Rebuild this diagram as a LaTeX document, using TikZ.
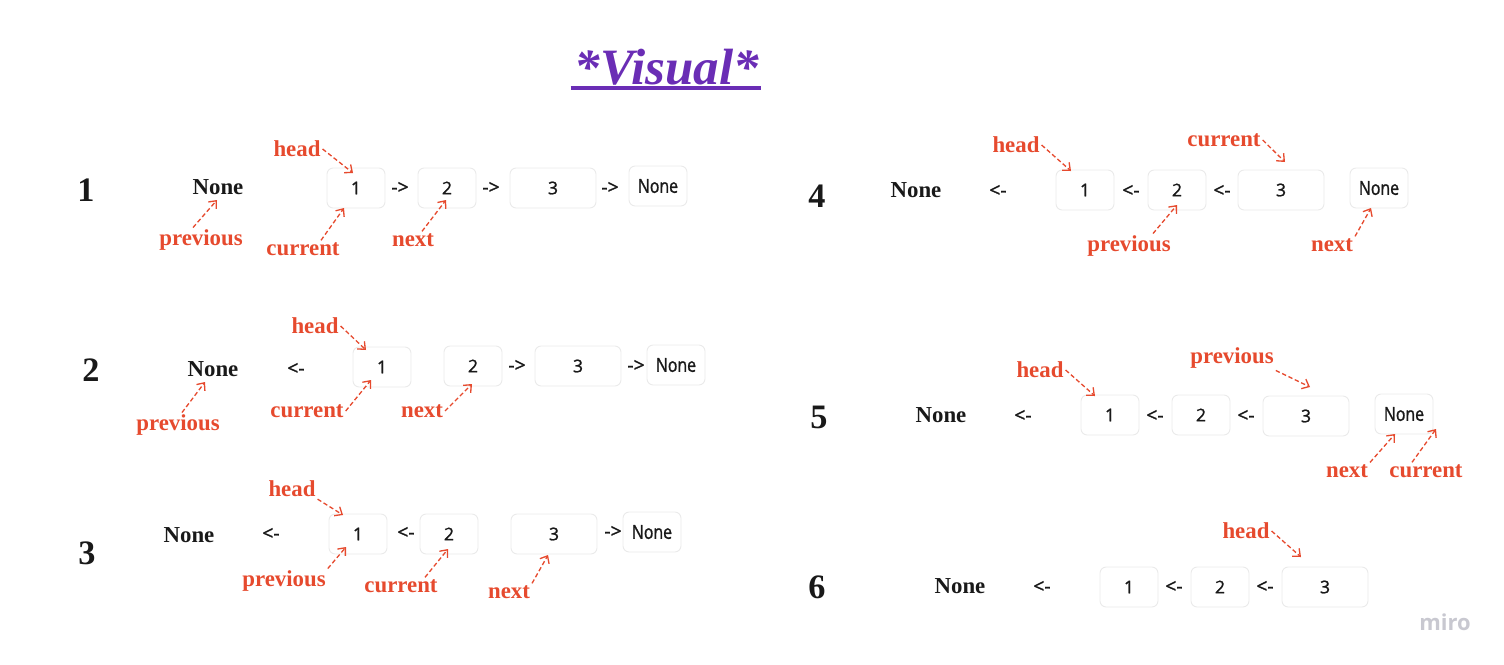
\documentclass[tikz,border=0pt]{standalone}
\usepackage{fontspec}
\setmainfont{Liberation Serif}
\newfontfamily\cellfont[RawFeature={embolden=1.2}]{Open Sans}
\newfontfamily\narrowcellfont[FakeStretch=0.82, RawFeature={embolden=1.2}]{Open Sans}
\newfontfamily\logofont{Open Sans}
\usetikzlibrary{arrows.meta}
\definecolor{ptrred}{HTML}{E64A2E}
\definecolor{visualpurple}{HTML}{6A2DB5}
\definecolor{cellgray}{HTML}{EAEAEA}
\definecolor{mirogray}{HTML}{C8C8D0}
\tikzset{
    cell/.style={draw=cellgray, fill=white, line width=0.5pt, rounded corners=3.5pt, minimum width=1.16cm, minimum height=0.8cm, inner sep=0pt, text=black!90, font=\cellfont\fontsize{10}{12}\selectfont},
    widecell/.style={cell, minimum width=1.72cm},
    nonecell/.style={cell, font=\narrowcellfont\fontsize{11}{12}\selectfont},
    linktext/.style={inner sep=0pt, text=black!90, font=\cellfont\fontsize{11}{12}\selectfont},
    nonetext/.style={inner sep=0pt, text=black!90, font=\bfseries\fontsize{13}{15}\selectfont},
    stepnum/.style={inner sep=0pt, text=black!90, font=\bfseries\fontsize{19.5}{22}\selectfont},
    ptrname/.style={inner sep=1pt, text=ptrred, font=\bfseries\fontsize{13}{15}\selectfont},
    ptr/.style={-{Straight Barb[length=3.5pt,width=6pt]}, ptrred, line width=0.75pt, dash pattern=on 2.5pt off 1.5pt}
}
\begin{document}
\begin{tikzpicture}[x=0.02cm, y=-0.02cm]
    \useasboundingbox (0,0) rectangle (1504,664);
    \node[anchor=base, text=visualpurple, inner sep=0pt, font=\bfseries\itshape\fontsize{29}{33}\selectfont] (title) at (667,84) {*Visual*};
    \draw[visualpurple, line width=2pt] ([shift={(-4,4)}]title.base west) -- ([shift={(2,4)}]title.base east);

    % step 1
    \node[stepnum] (s1) at (86,190) {1};
    \node[nonetext] (n1) at (218,187) {None};
    \node[cell] (b1a) at (356,188) {1};
    \node[linktext] (l1a) at (400,188) {->};
    \node[cell] (b1b) at (447,188) {2};
    \node[linktext] (l1b) at (491,188) {->};
    \node[widecell] (b1c) at (553,188) {3};
    \node[linktext] (l1c) at (610,188) {->};
    \node[nonecell] (b1n) at (658,186) {None};
    \node[ptrname] (h1) at (297,149) {head};
    \node[ptrname] (p1) at (201,240) {previous};
    \node[ptrname] (c1) at (303,249) {current};
    \node[ptrname] (x1) at (413,240) {next};
    \draw[ptr] (h1.east) -- ([shift={(-3,-15)}]b1a.center);
    \draw[ptr] ([shift={(-8,0)}]p1.north) -- ([shift={(-1,13)}]n1.center);
    \draw[ptr] ([shift={(18,0)}]c1.north) -- ([shift={(-12,20)}]b1a.center);
    \draw[ptr] ([shift={(9,0)}]x1.north) -- ([shift={(-1,12)}]b1b.center);

    % step 2
    \node[stepnum] (s2) at (91,370) {2};
    \node[nonetext] (n2) at (213,369) {None};
    \node[linktext] (l2a) at (296,369) {<-};
    \node[cell] (b2a) at (382,367) {1};
    \node[cell] (b2b) at (473,366) {2};
    \node[linktext] (l2b) at (517,366) {->};
    \node[widecell] (b2c) at (578,366) {3};
    \node[linktext] (l2c) at (636,366) {->};
    \node[nonecell] (b2n) at (676,365) {None};
    \node[ptrname] (h2) at (315,326) {head};
    \node[ptrname] (p2) at (178,425) {previous};
    \node[ptrname] (c2) at (307,411) {current};
    \node[ptrname] (x2) at (422,411) {next};
    \draw[ptr] (h2.east) -- ([shift={(-16,-17)}]b2a.center);
    \draw[ptr] ([shift={(4,0)}]p2.north) -- ([shift={(-8,13)}]n2.center);
    \draw[ptr] (c2.east) -- ([shift={(-11,13)}]b2a.center);
    \draw[ptr] (x2.east) -- ([shift={(-1,18)}]b2b.center);

    % step 3
    \node[stepnum] (s3) at (87,553) {3};
    \node[nonetext] (n3) at (189,535) {None};
    \node[linktext] (l3a) at (271,534) {<-};
    \node[cell] (b3a) at (358,534) {1};
    \node[linktext] (l3b) at (406,533) {<-};
    \node[cell] (b3b) at (449,534) {2};
    \node[widecell] (b3c) at (554,534) {3};
    \node[linktext] (l3c) at (613,532) {->};
    \node[nonecell] (b3n) at (652,532) {None};
    \node[ptrname] (h3) at (292,489) {head};
    \node[ptrname] (p3) at (284,581) {previous};
    \node[ptrname] (c3) at (401,586) {current};
    \node[ptrname] (x3) at (509,592) {next};
    \draw[ptr] (h3.south east) -- ([shift={(-15,-19)}]b3a.center);
    \draw[ptr] (p3.north east) -- ([shift={(-12,13)}]b3a.center);
    \draw[ptr] ([shift={(24,0)}]c3.north) -- ([shift={(-1,15)}]b3b.center);
    \draw[ptr] (x3.north east) -- ([shift={(-6,21)}]b3c.center);

    % step 4
    \node[stepnum] (s4) at (817,196) {4};
    \node[nonetext] (n4) at (916,190) {None};
    \node[linktext] (l4a) at (998,191) {<-};
    \node[cell] (b4a) at (1085,190) {1};
    \node[linktext] (l4b) at (1131,191) {<-};
    \node[cell] (b4b) at (1177,190) {2};
    \node[linktext] (l4c) at (1222,191) {<-};
    \node[widecell] (b4c) at (1281,190) {3};
    \node[nonecell] (b4n) at (1379,188) {None};
    \node[ptrname] (h4) at (1016,145) {head};
    \node[ptrname] (c4) at (1224,140) {current};
    \node[ptrname] (p4) at (1129,246) {previous};
    \node[ptrname] (x4) at (1332,245) {next};
    \draw[ptr] (h4.east) -- ([shift={(-14,-19)}]b4a.center);
    \draw[ptr] (c4.east) -- ([shift={(4,-28)}]b4c.center);
    \draw[ptr] ([shift={(24,0)}]p4.north) -- ([shift={(0,15)}]b4b.center);
    \draw[ptr] (x4.north east) -- ([shift={(-8,20)}]b4n.center);

    % step 5
    \node[stepnum] (s5) at (819,417) {5};
    \node[nonetext] (n5) at (941,415) {None};
    \node[linktext] (l5a) at (1023,416) {<-};
    \node[cell] (b5a) at (1110,415) {1};
    \node[linktext] (l5b) at (1155,416) {<-};
    \node[cell] (b5b) at (1201,415) {2};
    \node[linktext] (l5c) at (1246,416) {<-};
    \node[widecell] (b5c) at (1306,416) {3};
    \node[nonecell] (b5n) at (1404,414) {None};
    \node[ptrname] (h5) at (1040,370) {head};
    \node[ptrname] (p5) at (1232,358) {previous};
    \node[ptrname] (x5) at (1347,471) {next};
    \node[ptrname] (c5) at (1426,471) {current};
    \draw[ptr] (h5.east) -- ([shift={(-15,-19)}]b5a.center);
    \draw[ptr] (p5.south east) -- ([shift={(4,-29)}]b5c.center);
    \draw[ptr] (x5.north east) -- ([shift={(-9,20)}]b5n.center);
    \draw[ptr] ([shift={(-14,0)}]c5.north) -- ([shift={(32,15)}]b5n.center);

    % step 6
    \node[stepnum] (s6) at (817,587) {6};
    \node[nonetext] (n6) at (960,586) {None};
    \node[linktext] (l6a) at (1042,587) {<-};
    \node[cell] (b6a) at (1129,587) {1};
    \node[linktext] (l6b) at (1174,587) {<-};
    \node[cell] (b6b) at (1220,587) {2};
    \node[linktext] (l6c) at (1265,587) {<-};
    \node[widecell] (b6c) at (1325,587) {3};
    \node[ptrname] (h6) at (1246,531) {head};
    \draw[ptr] (h6.east) -- ([shift={(-24,-30)}]b6c.center);

    \node[text=mirogray, inner sep=0pt, font=\logofont\bfseries\fontsize{12.5}{14}\selectfont] (miro) at (1445,622) {miro};
\end{tikzpicture}
\end{document}
